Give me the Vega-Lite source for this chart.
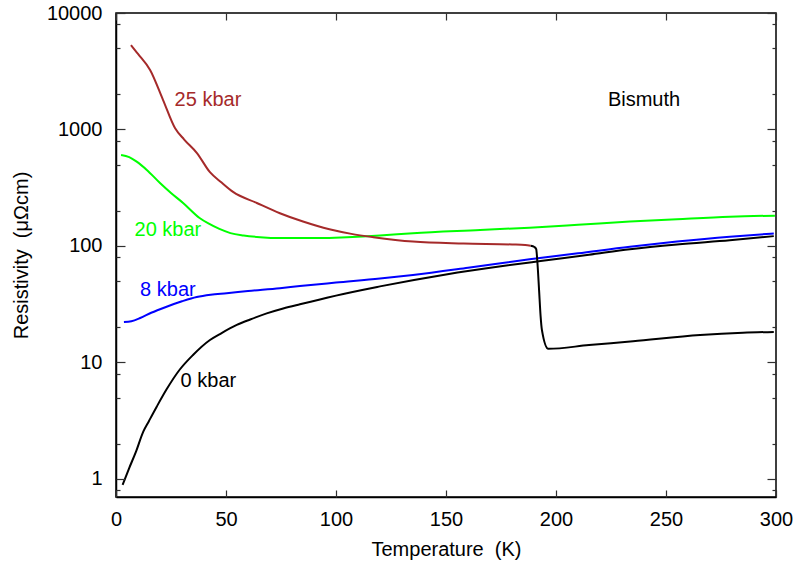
{
  "$schema": "https://vega.github.io/schema/vega-lite/v6.json",
  "width": 660,
  "height": 484,
  "autosize": "none",
  "padding": {"left": 116, "top": 13, "right": 19, "bottom": 67},
  "background": "white",
  "config": {
    "view": {"stroke": "black", "strokeWidth": 1.5},
    "font": "Liberation Sans",
    "axis": {
      "grid": false,
      "labelFlush": false,
      "domainColor": "black",
      "domainWidth": 1.5,
      "labelFont": "Liberation Sans",
      "labelFontSize": 20,
      "labelColor": "black",
      "titleFont": "Liberation Sans",
      "titleFontSize": 20,
      "titleFontWeight": "normal",
      "titleColor": "black"
    }
  },
  "datasets": {
    "curves": [
      {"s": "0 kbar", "T": 3, "R": 0.89},
      {"s": "0 kbar", "T": 6, "R": 1.24},
      {"s": "0 kbar", "T": 9, "R": 1.7},
      {"s": "0 kbar", "T": 12.4, "R": 2.55},
      {"s": "0 kbar", "T": 15, "R": 3.15},
      {"s": "0 kbar", "T": 18.5, "R": 4.17},
      {"s": "0 kbar", "T": 23, "R": 5.88},
      {"s": "0 kbar", "T": 29, "R": 8.7},
      {"s": "0 kbar", "T": 35, "R": 11.6},
      {"s": "0 kbar", "T": 42.7, "R": 15.6},
      {"s": "0 kbar", "T": 48, "R": 17.9},
      {"s": "0 kbar", "T": 54.9, "R": 21},
      {"s": "0 kbar", "T": 61, "R": 23.4},
      {"s": "0 kbar", "T": 68.5, "R": 26.4},
      {"s": "0 kbar", "T": 76, "R": 29.1},
      {"s": "0 kbar", "T": 83.6, "R": 31.6},
      {"s": "0 kbar", "T": 92.7, "R": 34.7},
      {"s": "0 kbar", "T": 100, "R": 37.5},
      {"s": "0 kbar", "T": 120, "R": 45},
      {"s": "0 kbar", "T": 150, "R": 57},
      {"s": "0 kbar", "T": 175, "R": 67},
      {"s": "0 kbar", "T": 193, "R": 74.3},
      {"s": "0 kbar", "T": 215, "R": 84},
      {"s": "0 kbar", "T": 233.6, "R": 93.7},
      {"s": "0 kbar", "T": 255, "R": 103},
      {"s": "0 kbar", "T": 279, "R": 112},
      {"s": "0 kbar", "T": 299, "R": 121.5},

      {"s": "8 kbar", "T": 3.6, "R": 22.2},
      {"s": "8 kbar", "T": 7, "R": 22.6},
      {"s": "8 kbar", "T": 11, "R": 24.1},
      {"s": "8 kbar", "T": 16, "R": 26.7},
      {"s": "8 kbar", "T": 23, "R": 30.1},
      {"s": "8 kbar", "T": 30, "R": 33.5},
      {"s": "8 kbar", "T": 36.7, "R": 36.5},
      {"s": "8 kbar", "T": 43, "R": 38.2},
      {"s": "8 kbar", "T": 50.3, "R": 39.3},
      {"s": "8 kbar", "T": 60, "R": 41},
      {"s": "8 kbar", "T": 74.5, "R": 43.4},
      {"s": "8 kbar", "T": 83.6, "R": 45.3},
      {"s": "8 kbar", "T": 100, "R": 48.5},
      {"s": "8 kbar", "T": 120, "R": 52.5},
      {"s": "8 kbar", "T": 135, "R": 56.4},
      {"s": "8 kbar", "T": 160, "R": 65},
      {"s": "8 kbar", "T": 188, "R": 76.9},
      {"s": "8 kbar", "T": 210, "R": 86.5},
      {"s": "8 kbar", "T": 233.6, "R": 98.6},
      {"s": "8 kbar", "T": 255, "R": 109},
      {"s": "8 kbar", "T": 279, "R": 120},
      {"s": "8 kbar", "T": 299, "R": 128},

      {"s": "20 kbar", "T": 2.3, "R": 604},
      {"s": "20 kbar", "T": 6, "R": 580},
      {"s": "20 kbar", "T": 9.4, "R": 530},
      {"s": "20 kbar", "T": 14, "R": 450},
      {"s": "20 kbar", "T": 20, "R": 347},
      {"s": "20 kbar", "T": 25, "R": 285},
      {"s": "20 kbar", "T": 30.5, "R": 234},
      {"s": "20 kbar", "T": 38, "R": 174},
      {"s": "20 kbar", "T": 42, "R": 156},
      {"s": "20 kbar", "T": 47, "R": 140},
      {"s": "20 kbar", "T": 52, "R": 129},
      {"s": "20 kbar", "T": 58, "R": 123},
      {"s": "20 kbar", "T": 65.5, "R": 119},
      {"s": "20 kbar", "T": 74.5, "R": 117},
      {"s": "20 kbar", "T": 93, "R": 117},
      {"s": "20 kbar", "T": 105, "R": 119},
      {"s": "20 kbar", "T": 120, "R": 123},
      {"s": "20 kbar", "T": 135, "R": 128.6},
      {"s": "20 kbar", "T": 165.5, "R": 137},
      {"s": "20 kbar", "T": 188, "R": 143.7},
      {"s": "20 kbar", "T": 210, "R": 152},
      {"s": "20 kbar", "T": 233.6, "R": 162},
      {"s": "20 kbar", "T": 255, "R": 170},
      {"s": "20 kbar", "T": 279, "R": 178.6},
      {"s": "20 kbar", "T": 299.5, "R": 182},

      {"s": "25 kbar", "T": 6.8, "R": 5310},
      {"s": "25 kbar", "T": 10, "R": 4450},
      {"s": "25 kbar", "T": 15.5, "R": 3240},
      {"s": "25 kbar", "T": 21.4, "R": 1790},
      {"s": "25 kbar", "T": 26.8, "R": 1030},
      {"s": "25 kbar", "T": 31, "R": 820},
      {"s": "25 kbar", "T": 36.8, "R": 628},
      {"s": "25 kbar", "T": 42.7, "R": 430},
      {"s": "25 kbar", "T": 48, "R": 350},
      {"s": "25 kbar", "T": 53.2, "R": 291},
      {"s": "25 kbar", "T": 64, "R": 234},
      {"s": "25 kbar", "T": 74.5, "R": 191},
      {"s": "25 kbar", "T": 85, "R": 162},
      {"s": "25 kbar", "T": 97, "R": 139},
      {"s": "25 kbar", "T": 107, "R": 127},
      {"s": "25 kbar", "T": 117, "R": 119},
      {"s": "25 kbar", "T": 135, "R": 109},
      {"s": "25 kbar", "T": 158, "R": 105},
      {"s": "25 kbar", "T": 180, "R": 103},
      {"s": "25 kbar", "T": 186, "R": 102},
      {"s": "25 kbar", "T": 188.5, "R": 100.5},

      {"s": "25 kbar b", "T": 188.5, "R": 100.5},
      {"s": "25 kbar b", "T": 190.2, "R": 98},
      {"s": "25 kbar b", "T": 191, "R": 94},
      {"s": "25 kbar b", "T": 191.6, "R": 70},
      {"s": "25 kbar b", "T": 192.3, "R": 42},
      {"s": "25 kbar b", "T": 193, "R": 25},
      {"s": "25 kbar b", "T": 193.6, "R": 19},
      {"s": "25 kbar b", "T": 196.5, "R": 13.1},
      {"s": "25 kbar b", "T": 215, "R": 14.1},
      {"s": "25 kbar b", "T": 235, "R": 15.2},
      {"s": "25 kbar b", "T": 265.5, "R": 17.2},
      {"s": "25 kbar b", "T": 285, "R": 18},
      {"s": "25 kbar b", "T": 299, "R": 18.3}
    ],
    "labels": [
      {"s": "25 kbar", "T": 41.8, "R": 1790, "label": "25 kbar"},
      {"s": "20 kbar", "T": 23.6, "R": 137, "label": "20 kbar"},
      {"s": "8 kbar", "T": 23.6, "R": 41.9, "label": "8 kbar"},
      {"s": "0 kbar", "T": 42, "R": 6.94, "label": "0 kbar"},
      {"s": "Bismuth", "T": 240, "R": 1790, "label": "Bismuth"}
    ]
  },
  "layer": [
    {
      "data": {"name": "curves"},
      "transform": [{"filter": {"field": "s", "oneOf": ["0 kbar", "8 kbar"]}}],
      "mark": {"type": "line", "strokeWidth": 2, "interpolate": "monotone", "clip": true},
      "encoding": {
        "x": {
          "field": "T", "type": "quantitative",
          "scale": {"domain": [0, 300], "nice": false, "zero": false},
          "axis": {
            "orient": "bottom",
            "values": [0, 50, 100, 150, 200, 250, 300],
            "ticks": false,
            "labelPadding": 12,
            "format": "d",
            "title": "Temperature \u00a0(K)",
            "titleY": 52,
            "titleBaseline": "middle"
          }
        },
        "y": {
          "field": "R", "type": "quantitative",
          "scale": {"type": "log", "domain": [0.7, 10000], "nice": false},
          "axis": {
            "orient": "left",
            "values": [1, 10, 100, 1000, 10000],
            "ticks": false,
            "labelPadding": 14,
            "format": "d",
            "title": "Resistivity \u00a0(μΩcm)",
            "titleX": -95,
            "titleBaseline": "middle"
          }
        },
        "color": {
          "field": "s", "type": "nominal",
          "scale": {
            "domain": ["25 kbar", "25 kbar b", "20 kbar", "8 kbar", "0 kbar", "Bismuth"],
            "range": ["#a52a2a", "#000000", "#00ff00", "#0000ff", "#000000", "#000000"]
          },
          "legend": null
        },
        "detail": {"field": "s"}
      }
    },
    {
      "data": {"name": "curves"},
      "transform": [{"filter": {"field": "s", "oneOf": ["20 kbar", "25 kbar"]}}],
      "mark": {"type": "line", "strokeWidth": 2, "interpolate": "monotone", "clip": true},
      "encoding": {
        "x": {
          "field": "T", "type": "quantitative",
          "scale": {"domain": [0, 300], "nice": false, "zero": false},
          "axis": {
            "orient": "top",
            "offset": -484,
            "zindex": 1,
            "values": [0, 50, 100, 150, 200, 250, 300],
            "ticks": true,
            "tickSize": 7,
            "tickColor": "#303030",
            "tickWidth": 1.2,
            "labels": false,
            "domain": false,
            "title": null
          }
        },
        "y": {
          "field": "R", "type": "quantitative",
          "scale": {"type": "log", "domain": [0.7, 10000], "nice": false},
          "axis": {
            "orient": "right",
            "offset": -660,
            "zindex": 1,
            "values": [1, 10, 100, 1000, 10000],
            "ticks": true,
            "tickSize": 9,
            "tickColor": "#303030",
            "tickWidth": 1.2,
            "labels": false,
            "domain": false,
            "title": null
          }
        },
        "color": {
          "field": "s", "type": "nominal",
          "scale": {
            "domain": ["25 kbar", "25 kbar b", "20 kbar", "8 kbar", "0 kbar", "Bismuth"],
            "range": ["#a52a2a", "#000000", "#00ff00", "#0000ff", "#000000", "#000000"]
          },
          "legend": null
        },
        "detail": {"field": "s"}
      }
    },
    {
      "data": {"name": "curves"},
      "transform": [{"filter": {"field": "s", "oneOf": ["25 kbar b"]}}],
      "mark": {"type": "line", "strokeWidth": 2, "interpolate": "monotone", "clip": true},
      "encoding": {
        "x": {
          "field": "T", "type": "quantitative",
          "scale": {"domain": [0, 300], "nice": false, "zero": false},
          "axis": null
        },
        "y": {
          "field": "R", "type": "quantitative",
          "scale": {"type": "log", "domain": [0.7, 10000], "nice": false},
          "axis": {
            "orient": "right",
            "offset": -660,
            "zindex": 1,
            "values": [0.8, 2, 5, 8, 20, 50, 80, 200, 500, 800, 2000, 5000, 8000],
            "ticks": true,
            "tickSize": 4,
            "tickColor": "#303030",
            "tickWidth": 1.2,
            "labels": false,
            "domain": false,
            "title": null
          }
        },
        "color": {
          "field": "s", "type": "nominal",
          "scale": {
            "domain": ["25 kbar", "25 kbar b", "20 kbar", "8 kbar", "0 kbar", "Bismuth"],
            "range": ["#a52a2a", "#000000", "#00ff00", "#0000ff", "#000000", "#000000"]
          },
          "legend": null
        },
        "detail": {"field": "s"}
      }
    },
    {
      "data": {"name": "labels"},
      "transform": [{"filter": {"field": "s", "oneOf": ["25 kbar", "20 kbar", "8 kbar", "0 kbar"]}}],
      "mark": {"type": "text", "fontSize": 20, "font": "Liberation Sans", "align": "center", "baseline": "middle"},
      "encoding": {
        "x": {
          "field": "T", "type": "quantitative",
          "scale": {"domain": [0, 300], "nice": false, "zero": false},
          "axis": {
            "orient": "bottom",
            "offset": -484,
            "zindex": 1,
            "values": [0, 50, 100, 150, 200, 250, 300],
            "ticks": true,
            "tickSize": 7,
            "tickColor": "#303030",
            "tickWidth": 1.2,
            "labels": false,
            "domain": false,
            "title": null
          }
        },
        "y": {
          "field": "R", "type": "quantitative",
          "scale": {"type": "log", "domain": [0.7, 10000], "nice": false},
          "axis": {
            "orient": "left",
            "offset": -660,
            "zindex": 1,
            "values": [1, 10, 100, 1000, 10000],
            "ticks": true,
            "tickSize": 9,
            "tickColor": "#303030",
            "tickWidth": 1.2,
            "labels": false,
            "domain": false,
            "title": null
          }
        },
        "text": {"field": "label"},
        "color": {
          "field": "s", "type": "nominal",
          "scale": {
            "domain": ["25 kbar", "25 kbar b", "20 kbar", "8 kbar", "0 kbar", "Bismuth"],
            "range": ["#a52a2a", "#000000", "#00ff00", "#0000ff", "#000000", "#000000"]
          },
          "legend": null
        }
      }
    },
    {
      "data": {"name": "labels"},
      "transform": [{"filter": {"field": "s", "oneOf": ["Bismuth"]}}],
      "mark": {"type": "text", "fontSize": 20, "font": "Liberation Sans", "align": "center", "baseline": "middle"},
      "encoding": {
        "x": {
          "field": "T", "type": "quantitative",
          "scale": {"domain": [0, 300], "nice": false, "zero": false},
          "axis": null
        },
        "y": {
          "field": "R", "type": "quantitative",
          "scale": {"type": "log", "domain": [0.7, 10000], "nice": false},
          "axis": {
            "orient": "left",
            "offset": -660,
            "zindex": 1,
            "values": [0.8, 2, 5, 8, 20, 50, 80, 200, 500, 800, 2000, 5000, 8000],
            "ticks": true,
            "tickSize": 4,
            "tickColor": "#303030",
            "tickWidth": 1.2,
            "labels": false,
            "domain": false,
            "title": null
          }
        },
        "text": {"field": "label"},
        "color": {
          "field": "s", "type": "nominal",
          "scale": {
            "domain": ["25 kbar", "25 kbar b", "20 kbar", "8 kbar", "0 kbar", "Bismuth"],
            "range": ["#a52a2a", "#000000", "#00ff00", "#0000ff", "#000000", "#000000"]
          },
          "legend": null
        }
      }
    }
  ],
  "resolve": {"axis": {"x": "independent", "y": "independent"}}
}
